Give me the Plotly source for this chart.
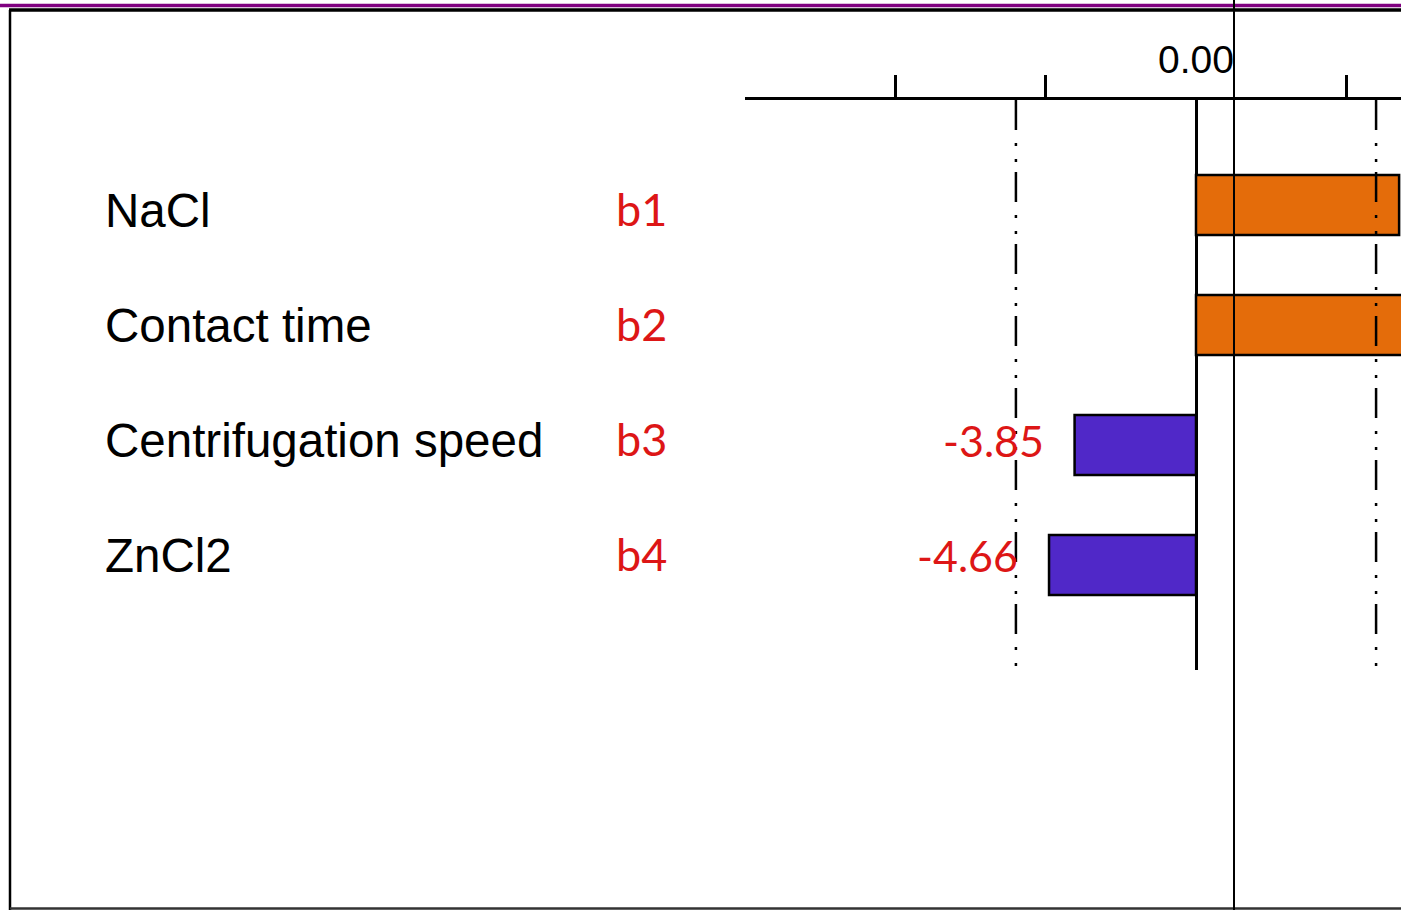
import plotly.graph_objects as go

# ---- data ----
factors = ["NaCl", "Contact time", "Centrifugation speed", "ZnCl2"]
codes = ["b1", "b2", "b3", "b4"]
effects = [6.44, 7.2, -3.85, -4.66]
value_labels = ["", "", "-3.85", "-4.66"]
crit_lines = [-5.71, 5.71]
minor_ticks = [-9.54, -4.77, 4.77]
major_ticks = [0]
major_ticktext = ["0.00"]
x_range = [-14.3, 6.5]

ORANGE = "#E46C0A"
BLUE = "#5028C8"
RED = "#DD1616"

W, H = 1401, 910
L, R, T, B = 745, 0, 100, 240
PW, PH = W - L - R, H - T - B


def px(xp):
    return (xp - L) / PW


def py(yp):
    return (H - B - yp) / PH


colors = [ORANGE if v > 0 else BLUE for v in effects]
label_shifts = [-5, 0, 5, 10]

fig = go.Figure()
fig.add_trace(go.Bar(
    x=effects, y=factors, orientation="h", width=0.5,
    marker=dict(color=colors, line=dict(color="black", width=2.5)),
    hoverinfo="skip", showlegend=False,
))

annotations = []
for f, c, v, lab, ys in zip(factors, codes, effects, value_labels, label_shifts):
    annotations.append(dict(x=px(103), xref="paper", y=f, yref="y", text=f,
                            showarrow=False, xanchor="left", yanchor="middle", yshift=ys,
                            font=dict(family="Liberation Sans, Arial", size=47.5, color="black")))
    annotations.append(dict(x=px(614), xref="paper", y=f, yref="y", text=c,
                            showarrow=False, xanchor="left", yanchor="middle", yshift=ys + 1,
                            font=dict(family="Lato, Calibri", size=45, color=RED)))
    if lab:
        annotations.append(dict(x=v, xref="x", y=f, yref="y", text=lab,
                                showarrow=False, xanchor="right", yanchor="middle",
                                xshift=-29, yshift=ys,
                                font=dict(family="Lato, Calibri", size=43, color=RED)))

shapes = []
for c in crit_lines:
    shapes.append(dict(type="line", xref="x", yref="y domain", x0=c, x1=c, y0=1, y1=0,
                       line=dict(color="black", width=2.5, dash="30px,13px,3px,13px,3px,10px")))

# page frame decorations
shapes += [
    dict(type="line", xref="paper", yref="paper", x0=px(0), x1=px(W), y0=py(5.5), y1=py(5.5),
         line=dict(color="#800080", width=3.5)),
    dict(type="line", xref="paper", yref="paper", x0=px(9), x1=px(W), y0=py(10), y1=py(10),
         line=dict(color="black", width=3.5)),
    dict(type="line", xref="paper", yref="paper", x0=px(10), x1=px(10), y0=py(10), y1=py(910),
         line=dict(color="black", width=2.5)),
    dict(type="line", xref="paper", yref="paper", x0=px(10), x1=px(W), y0=py(908.5), y1=py(908.5),
         line=dict(color="#333333", width=2.5)),
    dict(type="line", xref="paper", yref="paper", x0=px(1234), x1=px(1234), y0=py(0), y1=py(910),
         line=dict(color="black", width=2)),
]

fig.update_layout(
    width=W, height=H,
    margin=dict(l=L, r=R, t=T, b=B, pad=0),
    paper_bgcolor="white", plot_bgcolor="white",
    bargap=0.5,
    annotations=annotations, shapes=shapes,
    xaxis=dict(
        side="top", range=x_range, showgrid=False,
        showline=True, linecolor="black", linewidth=3,
        zeroline=True, zerolinecolor="black", zerolinewidth=2.5,
        tickmode="array", tickvals=major_ticks, ticktext=major_ticktext,
        ticks="outside", ticklen=0, ticklabelstandoff=8,
        tickfont=dict(family="Liberation Sans, Arial", size=39, color="black"),
        minor=dict(tickmode="array", tickvals=minor_ticks, ticks="outside",
                   ticklen=22, tickwidth=2.5, tickcolor="black", showgrid=False),
        fixedrange=True,
    ),
    yaxis=dict(
        categoryorder="array", categoryarray=factors,
        range=[3.875, -0.875], showticklabels=False, showgrid=False,
        zeroline=False, showline=False, fixedrange=True,
    ),
)

fig.write_html("out.html", config={"displayModeBar": False},
               post_script="document.body.style.margin='0';document.body.style.overflow='hidden';")
